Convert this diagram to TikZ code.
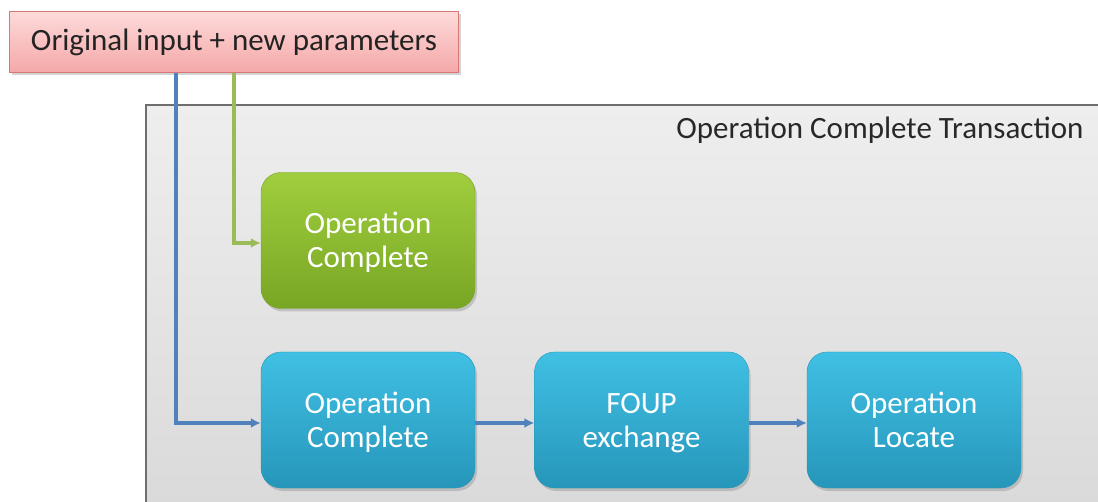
\documentclass[tikz,border=0pt]{standalone}
\usepackage{fontspec}
\setmainfont{Carlito}
\usetikzlibrary{arrows.meta,shadows}
\definecolor{lineblue}{HTML}{4F81BD}
\definecolor{linegreen}{HTML}{9BBB59}
\newcommand{\bigfont}{\fontsize{31}{34}\selectfont}
\newcommand{\topstrut}{\rule{0pt}{31pt}}
\tikzset{
  procbox/.style={rounded corners=20pt, minimum width=214pt, minimum height=136pt,
    inner sep=0pt, align=center, text=white, font=\bigfont,
    drop shadow={shadow xshift=2pt, shadow yshift=-3pt, opacity=0.35}},
  bluebox/.style={procbox, top color={rgb,255:red,64;green,192;blue,228}, bottom color={rgb,255:red,38;green,150;blue,186}, draw={rgb,255:red,40;green,150;blue,185}},
  greenbox/.style={procbox, top color={rgb,255:red,160;green,206;blue,62}, bottom color={rgb,255:red,120;green,166;blue,36}, draw={rgb,255:red,120;green,160;blue,40}},
  conn/.style={line width=3.4pt, -{Latex[length=10pt,width=10pt]}},
}
\begin{document}
\begin{tikzpicture}[x=1pt,y=-1pt]
\useasboundingbox (0,0) rectangle (1098,502);
% panel
\shade[top color={rgb,255:red,238;green,238;blue,238}, bottom color={rgb,255:red,218;green,218;blue,218}] (146,105) rectangle (1100,504);
\draw[line width=2pt, draw={rgb,255:red,110;green,110;blue,110}] (146,504) -- (146,105) -- (1100,105);
\node[anchor=east, font=\bigfont, text={rgb,255:red,40;green,40;blue,40}] (title) at (1087,130) {Operation Complete Transaction};
% input box
\node[anchor=north west, minimum width=449pt, minimum height=61pt, inner sep=0pt,
  top color={rgb,255:red,253;green,218;blue,218}, bottom color={rgb,255:red,245;green,168;blue,168},
  draw={rgb,255:red,215;green,120;blue,118}, line width=1pt,
  drop shadow={shadow xshift=2pt, shadow yshift=-3pt, opacity=0.35},
  font=\bigfont, text={rgb,255:red,35;green,35;blue,35}] (inp) at (9,11) {Original input + new parameters};
% boxes
\node[greenbox] (g) at (368,240.5) {\topstrut Operation\strut\\Complete\strut};
\node[bluebox] (b1) at (368,420) {\topstrut Operation\strut\\Complete\strut};
\node[bluebox] (b2) at (641.5,420) {\topstrut FOUP\strut\\exchange\strut};
\node[bluebox] (b3) at (914,420) {\topstrut Operation\strut\\Locate\strut};
% connectors
\draw[conn, draw=lineblue] (inp.south -| 176,0) -- (176,423) -- (b1.west |- 0,423);
\draw[conn, draw=linegreen] (inp.south -| 234,0) -- (234,243) -- (g.west |- 0,243);
\draw[conn, draw=lineblue] (b1.east |- 0,423) -- (b2.west |- 0,423);
\draw[conn, draw=lineblue] (b2.east |- 0,423) -- (b3.west |- 0,423);
\end{tikzpicture}
\end{document}
